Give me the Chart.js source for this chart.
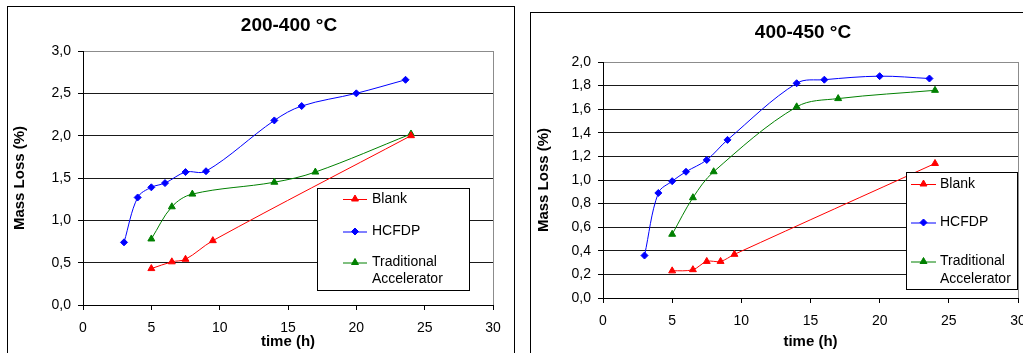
<!DOCTYPE html>
<html>
<head>
<meta charset="utf-8">
<script src="https://cdn.jsdelivr.net/npm/chart.js@4.4.1/dist/chart.umd.min.js"></script>
<style>
  html, body { margin: 0; padding: 0; background: #fff; overflow: hidden; }
  body { width: 1023px; height: 353px; position: relative; }
  .marco { position: absolute; border: 1px solid #000; background: #fff; }
  #marcoA { left: 7px; top: 6px; width: 506px; height: 360px; }
  #marcoB { left: 530px; top: 12px; width: 520px; height: 360px; }
  canvas { position: absolute; top: 0; }
  #graficoA { left: 0; }
  #graficoB { left: 513px; }
</style>
</head>
<body>
<div class="marco" id="marcoA"></div>
<div class="marco" id="marcoB"></div>
<canvas id="graficoA" width="513" height="353"></canvas>
<canvas id="graficoB" width="530" height="353"></canvas>
<script>
// series names
const series = ['Blank', 'HCFDP', 'Traditional Accelerator'];
const xLabels = ['0', '5', '10', '15', '20', '25', '30'];

// 200-400 °C
const tituloA = '200-400 °C';
const timeBlankA = [5, 6.5, 7.5, 9.5, 24];
const lossBlankA = [0.43, 0.51, 0.54, 0.76, 2.0];
const timeHcfdpA = [3, 4, 5, 6, 7.5, 9, 14, 16, 20, 23.6];
const lossHcfdpA = [0.74, 1.27, 1.39, 1.44, 1.57, 1.58, 2.18, 2.35, 2.5, 2.66];
const timeTradA = [5, 6.5, 8, 14, 17, 24];
const lossTradA = [0.78, 1.16, 1.31, 1.45, 1.57, 2.02];
const yLabelsA = ['0,0', '0,5', '1,0', '1,5', '2,0', '2,5', '3,0'];

// 400-450 °C
const tituloB = '400-450 °C';
const timeBlankB = [5, 6.5, 7.5, 8.5, 9.5, 24];
const lossBlankB = [0.23, 0.24, 0.31, 0.31, 0.37, 1.14];
const timeHcfdpB = [3, 4, 5, 6, 7.5, 9, 14, 16, 20, 23.6];
const lossHcfdpB = [0.36, 0.89, 0.99, 1.07, 1.17, 1.34, 1.82, 1.85, 1.88, 1.86];
const timeTradB = [5, 6.5, 8, 14, 17, 24];
const lossTradB = [0.54, 0.85, 1.07, 1.62, 1.69, 1.76];
const yLabelsB = ['0,0', '0,2', '0,4', '0,6', '0,8', '1,0', '1,2', '1,4', '1,6', '1,8', '2,0'];

Chart.defaults.font.family = "'Liberation Sans', Arial, sans-serif";
Chart.defaults.color = '#000';

const puntos = (xs, ys) => xs.map((t, i) => ({ x: t, y: ys[i] }));

// title over the plot and legend box inside the plot, like the original
const leyendaCaja = {
  id: 'leyendaCaja',
  afterDraw(chart, args, opts) {
    const ctx = chart.ctx;
    ctx.save();
    ctx.fillStyle = '#000';
    ctx.font = "bold 19px 'Liberation Sans', Arial, sans-serif";
    ctx.textAlign = 'center';
    ctx.textBaseline = 'middle';
    ctx.fillText(opts.title, opts.titleX, opts.titleY);

    const b = opts.box;
    ctx.fillStyle = '#fff';
    ctx.fillRect(b.x, b.y, b.w, b.h);
    ctx.strokeStyle = '#000';
    ctx.lineWidth = 1;
    ctx.strokeRect(b.x + 0.5, b.y + 0.5, b.w, b.h);
    ctx.font = "14px 'Liberation Sans', Arial, sans-serif";
    ctx.textAlign = 'left';
    chart.data.datasets.forEach((ds, i) => {
      const y = opts.rows[i];
      ctx.strokeStyle = ds.borderColor;
      ctx.lineWidth = 1;
      ctx.beginPath();
      ctx.moveTo(opts.lineX0, y + 0.5);
      ctx.lineTo(opts.lineX1, y + 0.5);
      ctx.stroke();
      ctx.fillStyle = ds.backgroundColor;
      Chart.helpers.drawPoint(ctx, { pointStyle: ds.pointStyle, radius: ds.pointRadius, borderWidth: 1, rotation: 0 },
        (opts.lineX0 + opts.lineX1) / 2, y);
      ctx.fillStyle = '#000';
      ds.label.split(' ').forEach((parte, k) => {
        ctx.fillText(parte, opts.textX, y + k * opts.lineGap);
      });
    });
    ctx.restore();
  }
};

function crearGrafico(id, datos, yMax, yPaso, yLabels, capas) {
  const ctx = document.getElementById(id).getContext('2d');
  return new Chart(ctx, {
    type: 'line',
    data: {
      datasets: [
        { label: series[0], data: datos[0], borderColor: '#ff0000', backgroundColor: '#ff0000',
          pointStyle: 'triangle', pointRadius: 4 },
        { label: series[1], data: datos[1], borderColor: '#0000ff', backgroundColor: '#0000ff',
          pointStyle: 'rectRot', pointRadius: 3.5 },
        { label: series[2], data: datos[2], borderColor: '#008000', backgroundColor: '#008000',
          pointStyle: 'triangle', pointRadius: 4 }
      ].map(d => Object.assign(d, { borderWidth: 1, pointBorderWidth: 1, tension: 0.35, fill: false }))
    },
    options: {
      responsive: false,
      animation: false,
      layout: { padding: { left: 0, right: capas.right, top: capas.top, bottom: 0 } },
      plugins: {
        legend: { display: false },
        tooltip: { enabled: false },
        title: { display: false },
        leyendaCaja: capas.legend
      },
      scales: {
        x: {
          type: 'linear', min: 0, max: 30,
          ticks: { stepSize: 5, padding: 10, font: { size: 14 }, callback: (v, i) => xLabels[i] },
          grid: {
            drawOnChartArea: true, tickLength: 5, tickColor: '#000',
            color: c => c.index === xLabels.length - 1 ? '#8c8c8c' : 'rgba(0,0,0,0)'
          },
          border: { color: '#000' },
          title: { display: true, text: 'time (h)', font: { size: 15, weight: 'bold' }, padding: { top: 0, bottom: 2 } },
          afterFit: s => { s.height = capas.xHeight; }
        },
        y: {
          min: 0, max: yMax,
          ticks: { stepSize: yPaso, padding: 7, font: { size: 14 }, callback: (v, i) => yLabels[i] },
          grid: {
            tickLength: 5, tickColor: '#000',
            color: c => c.index === yLabels.length - 1 ? '#8c8c8c' : '#1a1a1a'
          },
          border: { color: '#000' },
          title: { display: true, text: 'Mass Loss (%)', font: { size: 15, weight: 'bold' }, padding: { top: capas.yTitle, bottom: 0 } },
          afterFit: s => { s.width = capas.yWidth; }
        }
      }
    },
    plugins: [leyendaCaja]
  });
}

crearGrafico('graficoA',
  [puntos(timeBlankA, lossBlankA), puntos(timeHcfdpA, lossHcfdpA), puntos(timeTradA, lossTradA)],
  3, 0.5, yLabelsA,
  { right: 20, top: 51, xHeight: 48, yWidth: 83, yTitle: 11,
    legend: { title: tituloA, titleX: 289, titleY: 26,
              box: { x: 317, y: 188, w: 152, h: 102 }, lineX0: 343, lineX1: 367, textX: 372,
              rows: [199, 231.5, 262.5], lineGap: 17 } });

crearGrafico('graficoB',
  [puntos(timeBlankB, lossBlankB), puntos(timeHcfdpB, lossHcfdpB), puntos(timeTradB, lossTradB)],
  2, 0.2, yLabelsB,
  { right: 25, top: 62, xHeight: 55, yWidth: 90, yTitle: 22,
    legend: { title: tituloB, titleX: 290, titleY: 33,
              box: { x: 393, y: 172, w: 111, h: 117 }, lineX0: 398, lineX1: 423, textX: 427,
              rows: [184, 222.5, 261.5], lineGap: 17.5 } });
</script>
</body>
</html>
